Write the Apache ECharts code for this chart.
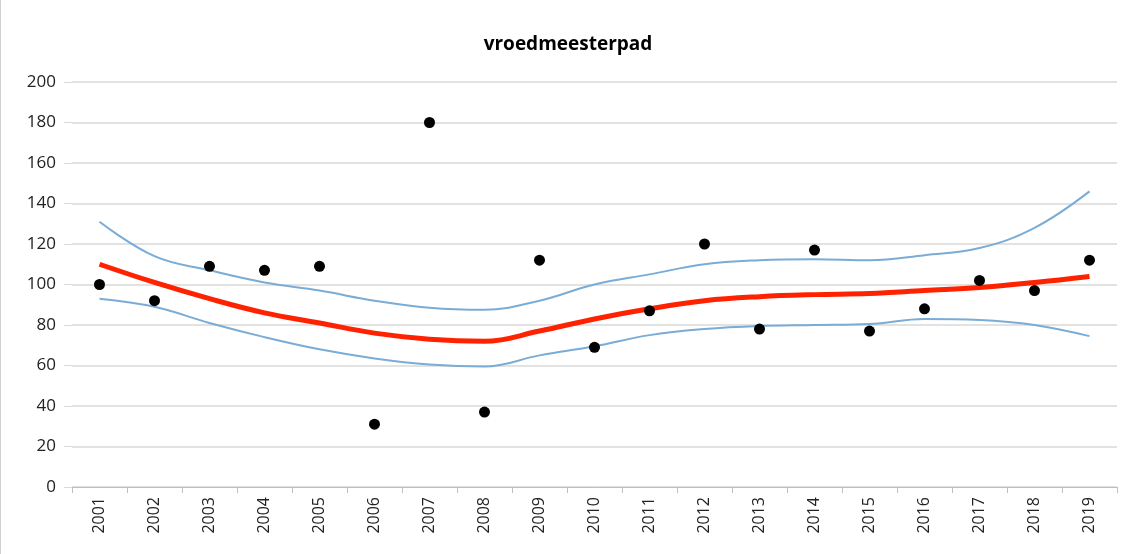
<!DOCTYPE html>
<html><head><meta charset="utf-8">
<script src="https://cdn.jsdelivr.net/npm/echarts@6/dist/echarts.min.js"></script>
<style>html,body{margin:0;padding:0;background:#fff}#c{width:1135px;height:554px;box-sizing:border-box;border-left:1px solid #d0d0d0;}</style>
</head><body><div id="c"></div>
<script>
const years = ['2001','2002','2003','2004','2005','2006','2007','2008','2009','2010','2011','2012','2013','2014','2015','2016','2017','2018','2019'];
const observed = [100,92,109,107,109,31,180,37,112,69,87,120,78,117,77,88,102,97,112];
const trend = [110,101,93,86,81,76,73,72,77,83,88,92,94,95,95.5,97,98.5,101,104];
const upper = [131,114,107,101,97,92,88.5,87.5,92,100,105,110,112,112.5,112,114.5,118,128,146];
const lower = [93,89,81,74,68,63.5,60.5,59.5,65,69.5,75,78,79.5,80,80.5,83,82.5,80,74.5];
const chart = echarts.init(document.getElementById('c'));
chart.setOption({
  animation:false,
  title:{text:'vroedmeesterpad',left:'center',top:30,textStyle:{fontFamily:'Open Sans',fontSize:19,fontWeight:'bold',color:'#000'}},
  grid:{left:71,right:18,top:82,bottom:67},
  xAxis:{type:'category',data:years,boundaryGap:true,
    axisLine:{lineStyle:{color:'#bfbfbf'}},
    axisTick:{show:true,length:6,lineStyle:{color:'#bfbfbf'}},
    axisLabel:{rotate:90,fontFamily:'Open Sans',fontSize:16,color:'#222',margin:10}},
  yAxis:{type:'value',min:0,max:200,interval:20,
    axisLine:{show:false},axisTick:{show:true,length:8,lineStyle:{color:'#d9d9d9'}},
    splitLine:{lineStyle:{color:'#d9d9d9',width:1.5}},
    axisLabel:{fontFamily:'Open Sans',fontSize:17,color:'#222',margin:16}},
  series:[
    {type:'line',data:upper,smooth:0.4,symbol:'none',lineStyle:{color:'#7aacd6',width:2},z:2},
    {type:'line',data:lower,smooth:0.4,symbol:'none',lineStyle:{color:'#7aacd6',width:2},z:2},
    {type:'line',data:trend,smooth:0.4,symbol:'none',lineStyle:{color:'#ff2200',width:5},z:3},
    {type:'scatter',data:observed,symbolSize:11,itemStyle:{color:'#000',opacity:1},z:4}
  ]
});
</script></body></html>
